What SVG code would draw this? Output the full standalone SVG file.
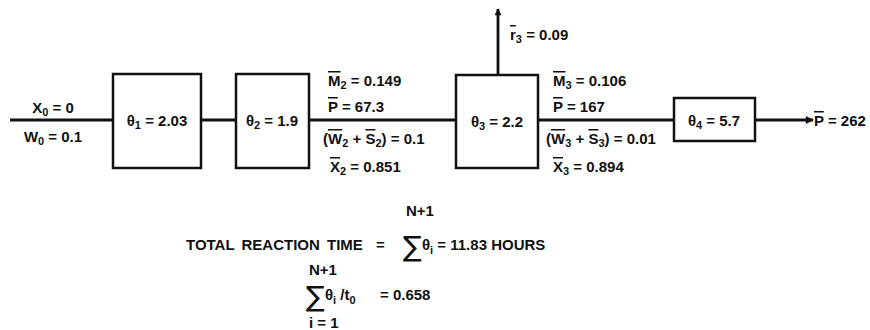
<svg xmlns="http://www.w3.org/2000/svg" width="870" height="330" viewBox="0 0 870 330">
<style>
text{font-family:"Liberation Sans","DejaVu Sans",sans-serif;font-weight:bold;font-size:15px;fill:#111}
.s{font-size:11px}
.o{text-decoration:overline}
.box{fill:#fff;stroke:#111;stroke-width:2.5}
.ln{stroke:#111;stroke-width:2.8;fill:none}
.sig{font-size:28px;font-family:"DejaVu Sans",sans-serif;font-weight:normal}
</style>
<defs>
<marker id="ah" viewBox="0 0 10 10" refX="9" refY="5" markerWidth="14" markerHeight="7" markerUnits="userSpaceOnUse" orient="auto"><path d="M0,0 L10,5 L0,10 Z" fill="#111"/></marker>
<marker id="ah2" viewBox="0 0 10 10" refX="9" refY="5" markerWidth="16" markerHeight="8" markerUnits="userSpaceOnUse" orient="auto"><path d="M0,0 L10,5 L0,10 Z" fill="#111"/></marker>
</defs>
<g id="connectors">
<line class="ln" x1="10" y1="120" x2="113" y2="120"/>
<line class="ln" x1="201" y1="120" x2="236" y2="120"/>
<line class="ln" x1="309" y1="120" x2="456" y2="120"/>
<line class="ln" x1="538" y1="120" x2="674" y2="120"/>
<line class="ln" x1="498" y1="75" x2="498" y2="9" marker-end="url(#ah)"/>
<line class="ln" x1="755" y1="120" x2="813" y2="120" marker-end="url(#ah2)"/>
</g>
<g id="input-labels">
<text x="53" y="113" text-anchor="middle">X<tspan class="s" dy="3">0</tspan><tspan dy="-3"> = 0</tspan></text>
<text x="53" y="142" text-anchor="middle">W<tspan class="s" dy="3">0</tspan><tspan dy="-3"> = 0.1</tspan></text>
</g>
<g id="stage1">
<rect class="box" x="113" y="74" width="88" height="94"/>
<text x="157" y="126" text-anchor="middle">θ<tspan class="s" dy="3">1</tspan><tspan dy="-3"> = 2.03</tspan></text>
</g>
<g id="stage2">
<rect class="box" x="236" y="74" width="73" height="94"/>
<text x="272" y="126" text-anchor="middle">θ<tspan class="s" dy="3">2</tspan><tspan dy="-3"> = 1.9</tspan></text>
</g>
<g id="stream2-labels">
<text x="328" y="86"><tspan class="o">M</tspan><tspan class="s" dy="3">2</tspan><tspan dy="-3"> = 0.149</tspan></text>
<text x="328" y="112"><tspan class="o">P</tspan> = 67.3</text>
<text x="323" y="144">(<tspan class="o">W</tspan><tspan class="s" dy="3">2</tspan><tspan dy="-3"> + </tspan><tspan class="o">S</tspan><tspan class="s" dy="3">2</tspan><tspan dy="-3">) = 0.1</tspan></text>
<text x="330" y="172"><tspan class="o">X</tspan><tspan class="s" dy="3">2</tspan><tspan dy="-3"> = 0.851</tspan></text>
</g>
<g id="stage3">
<rect class="box" x="456" y="75" width="82" height="93"/>
<text x="497" y="127" text-anchor="middle">θ<tspan class="s" dy="3">3</tspan><tspan dy="-3"> = 2.2</tspan></text>
<text x="510" y="40"><tspan class="o">r</tspan><tspan class="s" dy="3">3</tspan><tspan dy="-3"> = 0.09</tspan></text>
</g>
<g id="stream3-labels">
<text x="553" y="86"><tspan class="o">M</tspan><tspan class="s" dy="3">3</tspan><tspan dy="-3"> = 0.106</tspan></text>
<text x="553" y="112"><tspan class="o">P</tspan> = 167</text>
<text x="546" y="144">(<tspan class="o">W</tspan><tspan class="s" dy="3">3</tspan><tspan dy="-3"> + </tspan><tspan class="o">S</tspan><tspan class="s" dy="3">3</tspan><tspan dy="-3">) = 0.01</tspan></text>
<text x="553" y="172"><tspan class="o">X</tspan><tspan class="s" dy="3">3</tspan><tspan dy="-3"> = 0.894</tspan></text>
</g>
<g id="stage4">
<rect class="box" x="674" y="98" width="81" height="43"/>
<text x="714" y="126" text-anchor="middle">θ<tspan class="s" dy="3">4</tspan><tspan dy="-3"> = 5.7</tspan></text>
<text x="814" y="126"><tspan class="o">P</tspan> = 262</text>
</g>
<g id="totals">
<text x="186" y="250" word-spacing="3">TOTAL REACTION TIME</text>
<text x="376" y="250">=</text>
<text x="406" y="216">N+1</text>
<text class="sig" x="403" y="256">∑</text>
<text x="422" y="250">θ<tspan class="s" dy="4">i</tspan><tspan dy="-4"> = 11.83 HOURS</tspan></text>
<text x="309" y="275">N+1</text>
<text class="sig" x="306" y="306">∑</text>
<text x="325" y="300">θ<tspan class="s" dy="4">i</tspan><tspan dy="-4"> /t</tspan><tspan class="s" dy="4">0</tspan></text>
<text x="380" y="300">=  0.658</text>
<text x="309" y="328">i = 1</text>
</g>
</svg>
